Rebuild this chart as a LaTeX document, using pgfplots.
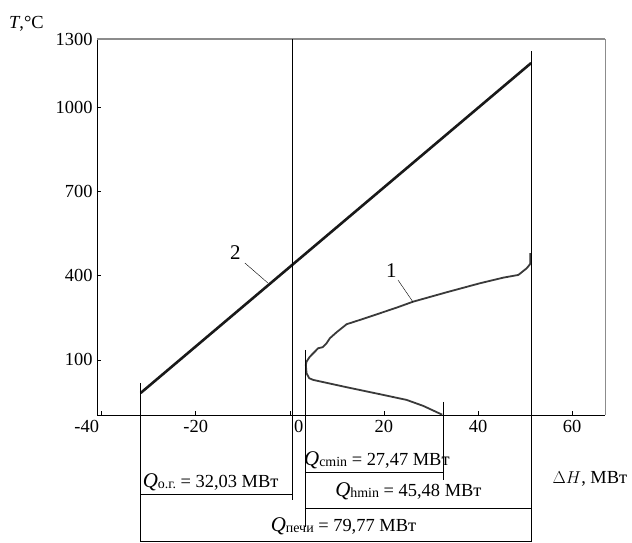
\documentclass[border=0pt]{standalone}
\usepackage{fontspec}
\setmainfont{Liberation Serif}
\usepackage{pgfplots}
\pgfplotsset{compat=1.18}
\definecolor{curvegray}{HTML}{3A3A3A}
\definecolor{framegray}{HTML}{8C8C8C}
% italic Q with a small upright index set almost on the baseline
\newcommand{\Qi}[1]{{\fontsize{21}{21}\selectfont\textit{Q}}\raisebox{-1bp}{\fontsize{14}{14}\selectfont #1}}

\begin{document}
\begin{tikzpicture}[font=\fontsize{18.5}{20}\selectfont]
\useasboundingbox (-97bp,-128bp) rectangle (535bp,415bp);
\begin{axis}[
  at={(0,0)}, anchor=south west,
  scale only axis, width=508bp, height=376bp,
  xmin=-41, xmax=67, ymin=-96, ymax=1242,
  xtick={-40,-20,0,20,40,60},
  xticklabels={-40\hspace*{30bp},-20,\hspace*{18bp}0,20,40,60},
  ytick={100,400,700,1000},
  yticklabels={100,400,700,1000},
  extra y ticks={1242}, extra y tick labels={1300},
  extra y tick style={major tick length=0pt},
  tick align=inside, xtick pos=left, ytick pos=left,
  major tick length=4bp,
  tick style={black, line width=0.6bp},
  axis line style={draw=none},
  tick label style={font=\fontsize{18.5}{20}\selectfont},
  xticklabel style={yshift=-2bp},
  yticklabel style={xshift=-1bp},
  clip=false,
]
% frame
\draw[black, line width=0.8bp] (rel axis cs:0,1) -- (rel axis cs:0,0) -- (rel axis cs:1,0);
\draw[framegray, line width=1.6bp] (rel axis cs:0,1) -- (rel axis cs:1,1);
\draw[framegray, line width=0.8bp] (rel axis cs:1,1) -- (rel axis cs:1,0);

% curve 2 (flue gas)
\addplot[black!90, line width=2.6bp] coordinates {(-31.7,-17.4) (51.3,1156.6)};

% curve 1 (process stream)
\addplot[curvegray, line width=1.8bp, line join=round] coordinates {
 (32.4,-95) (28.36,-63.6) (24.83,-42.3) (19.15,-22) (12.06,2.9) (4.96,28.9)
 (4.11,34.9) (3.55,52.7) (3.40,82.2) (3.55,94) (4.26,111.7) (5.32,129.5)
 (6.02,141.6) (6.96,145.2) (7.81,159.4) (8.51,177.2) (9.94,198.5) (12.06,227)
 (14.89,242.3) (19.15,266.1) (22.70,286.1) (26.23,307.4) (33.34,340.8)
 (40.43,372.9) (45.38,392.8) (48.57,402.4) (50.36,426.2) (51.1,441.5) (51.1,479.6)};

% vertical guides and enthalpy brackets
\draw[black, line width=0.7bp] (axis cs:-31.7,18) -- (axis cs:-31.7,-547) -- (axis cs:51.28,-547);
\draw[black, line width=0.7bp] (axis cs:51.28,1199) -- (axis cs:51.28,-547);
\draw[black, line width=0.7bp] (axis cs:0.43,1242) -- (axis cs:0.43,-398);
\draw[black, line width=0.7bp] (axis cs:-31.7,-376.7) -- (axis cs:0.43,-376.7);
\draw[black, line width=0.7bp] (axis cs:3.19,135.6) -- (axis cs:3.19,-494);
\draw[black, line width=0.7bp] (axis cs:3.19,-298.4) -- (axis cs:32.55,-298.4);
\draw[black, line width=0.7bp] (axis cs:32.55,-49.4) -- (axis cs:32.55,-326.9);
\draw[black, line width=0.7bp] (axis cs:3.19,-426.5) -- (axis cs:51.28,-426.5);

% curve numbers
\draw[black, line width=0.4bp] (axis cs:22.98,384.6) -- (axis cs:26.17,306.3);
\node[anchor=base, font=\fontsize{21}{21}\selectfont] at (axis cs:21.6,392) {1};
\draw[black, line width=0.4bp] (axis cs:-9.57,445) -- (axis cs:-4.68,373.9);
\node[anchor=base, font=\fontsize{21}{21}\selectfont] at (axis cs:-11.6,456) {2};

% labels
\node[anchor=base west, inner sep=0pt] at (axis cs:3.0,-277) {\Qi{cmin} = 27,47 МВт};
\node[anchor=base west, inner sep=0pt] at (axis cs:-31.3,-355.4) {\Qi{о.г.} = 32,03 МВт};
\node[anchor=base, inner sep=0pt] at (axis cs:25.2,-386) {\Qi{hmin} = 45,48 МВт};
\node[anchor=base, inner sep=0pt] at (axis cs:11.4,-510.8) {\Qi{печи} = 79,77 МВт};
\node[anchor=base, inner sep=0pt] at (axis cs:63.8,-341) {$\Delta H$, МВт};
\node[anchor=base, inner sep=0pt] at (axis cs:-56,1281) {\textit{T},°C};
\end{axis}
\end{tikzpicture}
\end{document}
